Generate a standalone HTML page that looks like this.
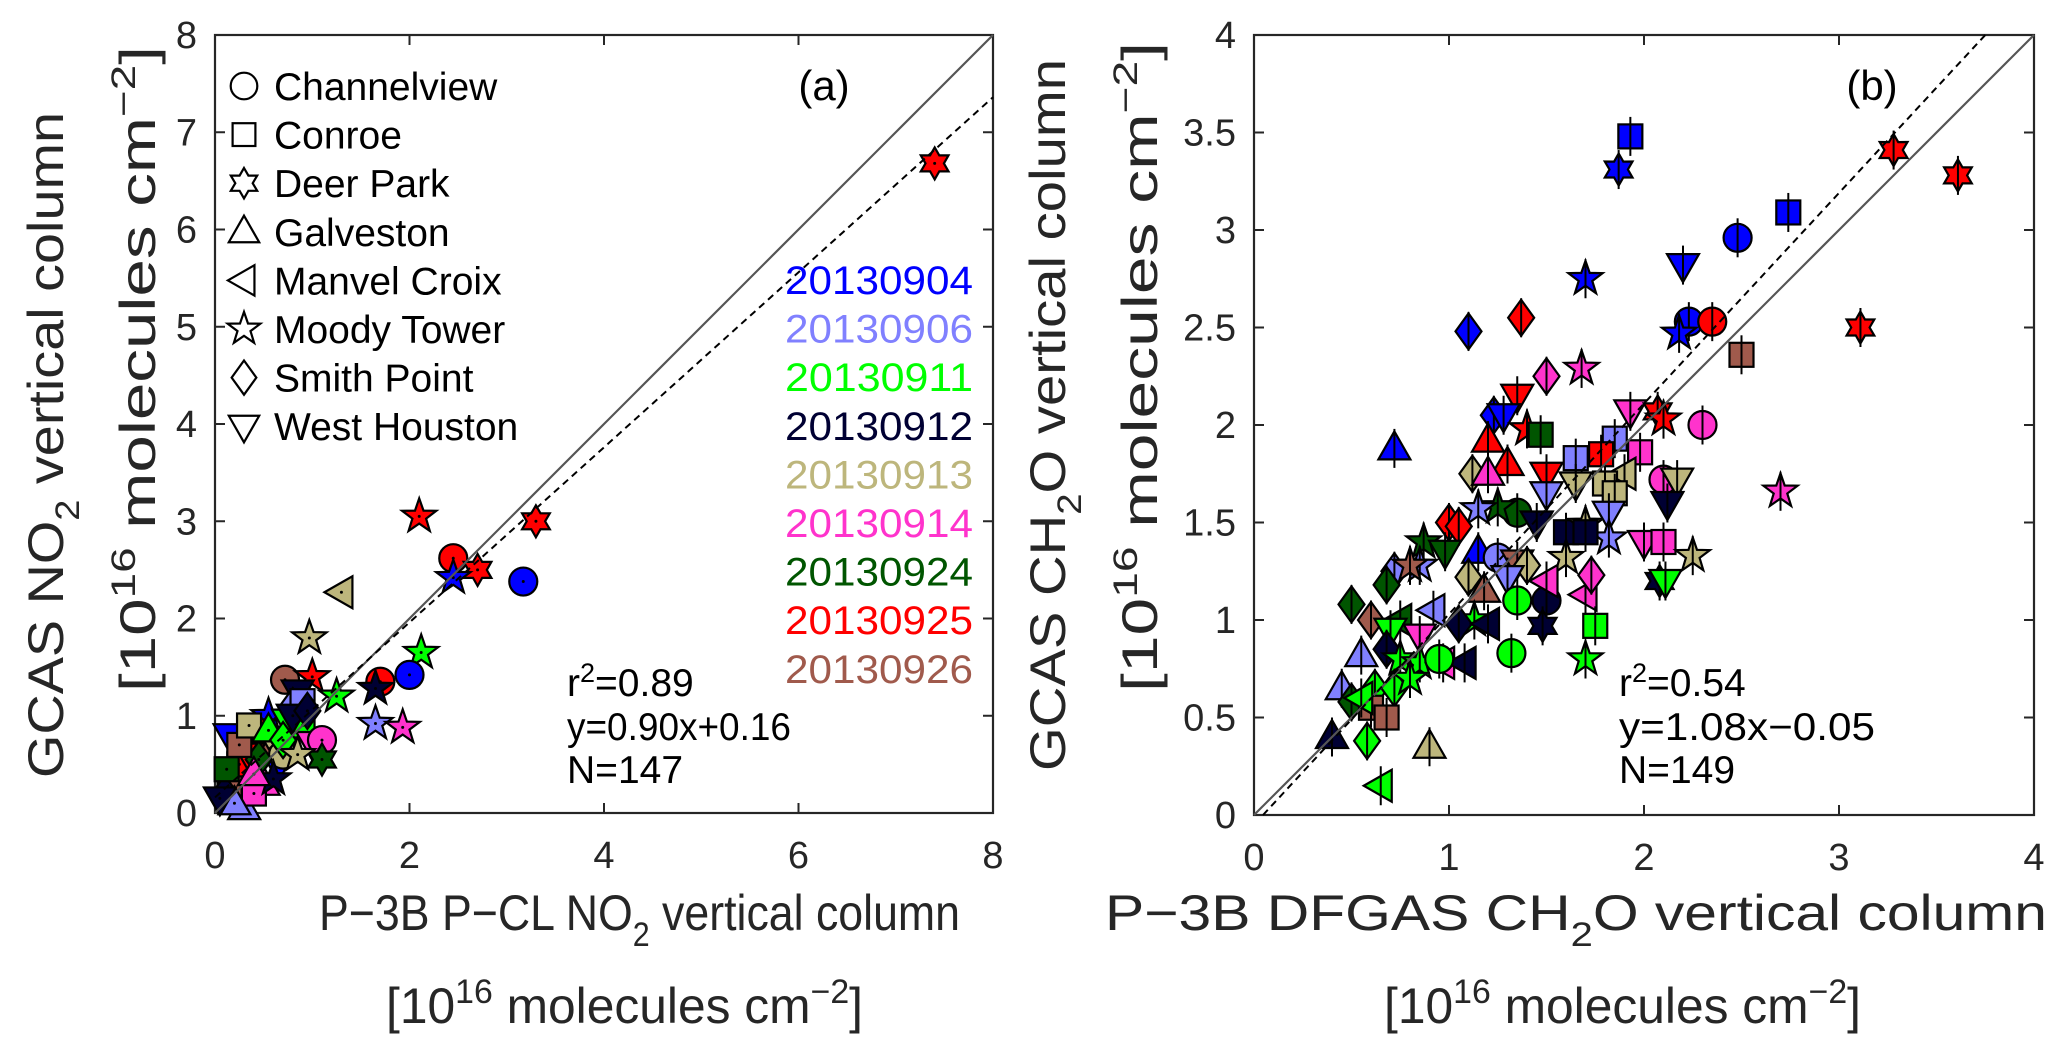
<!DOCTYPE html>
<html><head><meta charset="utf-8"><style>
body{margin:0;background:#fff}
svg{display:block;font-family:"Liberation Sans","DejaVu Sans",sans-serif}
</style></head><body>
<svg id="fig" width="2067" height="1051" viewBox="0 0 2067 1051" xmlns="http://www.w3.org/2000/svg">
<rect width="2067" height="1051" fill="#fff"/>
<g id="pa"></g>
<g id="pb"></g>
</svg>
<script>
// Panel (a) NO2 data
const aX=[7.4,3.3,2.1,2.45,2.7,2.45,3.17,1.3,0.97,2.12,2.0,1.7,1.65,1.65,1.93,0.72,1.0,0.85,1.25,0.55,0.15,0.45,0.75,0.9,1.0,1.1,1.1,0.65,0.5,0.3,0.5,0.3,0.15,0.1,0.25,0.35,0.6,0.8,0.4,0.2,0.05,0.7,0.45,0.9,0.6,0.25,0.8,0.35,0.95,0.55,0.12,0.7,0.85,0.4];
const aY=[6.68,3.0,3.05,2.62,2.5,2.42,2.38,2.27,1.8,1.65,1.42,1.35,1.28,0.92,0.88,1.37,1.4,1.25,1.2,1.0,0.8,0.85,0.95,0.9,0.72,0.75,0.55,0.5,0.65,0.45,0.3,0.05,0.3,0.2,0.5,0.6,0.75,1.1,0.2,0.1,0.15,0.6,0.55,1.15,0.35,0.7,1.0,0.9,1.05,0.85,0.45,0.75,0.6,0.4];
const aSite=[2,2,5,0,2,5,0,4,5,5,0,0,5,5,5,0,5,7,5,5,7,7,7,1,7,0,2,7,7,7,3,3,1,6,1,7,7,6,1,3,7,0,6,1,5,1,7,1,6,3,1,6,5,3];
const aDate=[7,7,7,7,7,0,0,4,4,2,0,7,3,1,5,8,7,3,2,0,0,7,2,2,5,5,6,0,8,6,5,1,8,3,7,7,4,1,5,1,3,4,6,1,3,8,3,4,3,2,6,2,4,5];
// Panel (b) CH2O data
const bX=[3.28,3.61,3.11,2.7,1.93,1.87,2.74,2.48,2.2,1.7,2.23,2.35,2.18,2.5,1.1,1.37,1.5,1.68,1.35,2.3,1.93,2.07,2.1,0.72,1.23,1.28,1.4,1.47,1.85,1.2,1.3,1.12,1.2,1.5,1.65,1.78,1.98,2.1,2.17,1.9,1.8,1.85,2.12,1.5,1.65,1.35,1.25,1.15,1.0,1.05,1.45,1.6,1.7,1.82,1.82,2.0,2.1,2.25,2.08,2.11,0.87,0.98,1.15,1.25,1.35,1.4,1.6,1.7,0.72,0.85,0.8,1.1,1.3,0.68,0.5,0.6,0.75,0.92,1.18,1.35,1.5,1.5,1.7,1.73,1.75,1.48,1.13,1.05,1.2,0.7,0.85,0.55,0.68,0.75,0.85,0.97,1.08,1.32,1.7,0.45,0.62,0.72,0.8,0.5,0.6,0.68,0.4,0.58,0.9,0.65,0.55,0.95];
const bY=[3.41,3.28,2.5,1.66,3.48,3.31,3.09,2.96,2.82,2.75,2.53,2.53,2.47,2.36,2.48,2.55,2.25,2.29,2.15,2.0,2.07,2.07,2.03,1.88,2.05,2.05,1.98,1.95,1.93,1.92,1.8,1.75,1.75,1.75,1.83,1.85,1.86,1.72,1.72,1.75,1.7,1.65,1.6,1.65,1.7,1.55,1.58,1.57,1.5,1.48,1.5,1.45,1.49,1.55,1.42,1.4,1.4,1.33,1.2,1.2,1.4,1.35,1.35,1.32,1.3,1.28,1.32,1.45,1.25,1.28,1.28,1.22,1.22,1.18,1.08,1.0,1.0,1.05,1.15,1.1,1.1,1.2,1.13,1.23,0.97,0.97,1.0,0.98,0.98,0.95,0.92,0.82,0.85,0.8,0.78,0.78,0.78,0.83,0.8,0.65,0.65,0.65,0.7,0.58,0.55,0.5,0.4,0.38,0.35,0.15,0.6,0.8];
const bSite=[2,2,2,5,1,2,1,0,7,5,0,0,5,1,6,6,6,5,7,0,7,2,5,3,6,7,5,1,1,3,3,6,3,7,1,1,1,0,7,4,1,1,7,7,7,0,5,5,6,6,7,1,5,7,5,7,1,5,2,7,5,7,3,0,7,6,5,1,6,5,5,6,7,6,6,6,4,4,3,0,0,4,4,6,1,2,5,6,4,7,7,3,6,5,5,4,4,0,5,3,6,6,5,6,1,1,3,6,3,4,4,0];
const bDate=[7,7,7,5,0,0,0,0,0,0,0,7,0,8,0,7,5,5,7,5,5,7,7,0,0,0,7,6,1,7,7,4,5,7,1,7,5,5,4,4,4,4,3,1,4,6,6,1,7,7,3,3,4,1,1,5,5,4,3,2,6,6,0,1,8,4,4,3,1,1,8,4,1,6,6,8,6,1,8,2,3,5,5,5,2,3,2,3,3,2,5,1,3,2,2,5,3,2,2,1,2,2,2,6,8,8,3,2,4,2,2,2];
const dateLabels=["20130904","20130906","20130911","20130912","20130913","20130914","20130924","20130925","20130926"];
const dateColors=["#0000ff","#8080ff","#00ff00","#000033","#bdb67c","#ff33cc","#005500","#ff0000","#a05a4c"];
const siteLabels=["Channelview","Conroe","Deer Park","Galveston","Manvel Croix","Moody Tower","Smith Point","West Houston"];
const aXTicks=[0,2,4,6,8];
const aYTicks=[0,1,2,3,4,5,6,7,8];
const bXTicks=[0,1,2,3,4];
const bYTicks=[0,0.5,1,1.5,2,2.5,3,3.5,4];

const NS="http://www.w3.org/2000/svg";
function mk(parent,tag,attrs){const e=document.createElementNS(NS,tag);for(const k in attrs)e.setAttribute(k,attrs[k]);parent.appendChild(e);return e;}
function starPts(cx,cy,n,ro,ri,rot){let p=[];for(let i=0;i<2*n;i++){const r=i%2?ri:ro;const a=rot+Math.PI*i/n;p.push((cx+r*Math.sin(a)).toFixed(1)+","+(cy-r*Math.cos(a)).toFixed(1));}return p.join(" ");}
function marker(g,site,cx,cy,fill,s){
  let e;
  if(site===0)e=mk(g,'circle',{cx:cx,cy:cy,r:14*s});
  else if(site===1)e=mk(g,'rect',{x:cx-12*s,y:cy-12*s,width:24*s,height:24*s});
  else if(site===2)e=mk(g,'polygon',{points:starPts(cx,cy,6,16*s,9.2*s,0)});
  else if(site===3)e=mk(g,'polygon',{points:`${cx},${cy-17*s} ${cx+16*s},${cy+11*s} ${cx-16*s},${cy+11*s}`});
  else if(site===4)e=mk(g,'polygon',{points:`${cx-17*s},${cy} ${cx+11*s},${cy-16*s} ${cx+11*s},${cy+16*s}`});
  else if(site===5)e=mk(g,'polygon',{points:starPts(cx,cy,5,18*s,7.2*s,0)});
  else if(site===6)e=mk(g,'polygon',{points:`${cx},${cy-18*s} ${cx+13*s},${cy} ${cx},${cy+18*s} ${cx-13*s},${cy}`});
  else e=mk(g,'polygon',{points:`${cx},${cy+17*s} ${cx+16*s},${cy-11*s} ${cx-16*s},${cy-11*s}`});
  e.setAttribute('fill',fill);e.setAttribute('stroke','#000');e.setAttribute('stroke-width',2.2);
  return e;
}
function panel(g,L,T,S,max,xticks,yticks,X,Y,Site,Date,fit,err){
  const sx=v=>L+v/max*S, sy=v=>T+S-v/max*S;
  mk(g,'rect',{x:L,y:T,width:S,height:S,fill:'#fff',stroke:'#262626','stroke-width':2.2});
  xticks.forEach(t=>{
    mk(g,'line',{x1:sx(t),x2:sx(t),y1:T+S,y2:T+S-10,stroke:'#262626','stroke-width':2});
    mk(g,'line',{x1:sx(t),x2:sx(t),y1:T,y2:T+10,stroke:'#262626','stroke-width':2});
    const tx=mk(g,'text',{x:sx(t),y:T+S+55,'text-anchor':'middle','font-size':38,fill:'#262626'});tx.textContent=String(t);
    
    
  });
  yticks.forEach(t=>{
    mk(g,'line',{x1:L,x2:L+10,y1:sy(t),y2:sy(t),stroke:'#262626','stroke-width':2});
    mk(g,'line',{x1:L+S,x2:L+S-10,y1:sy(t),y2:sy(t),stroke:'#262626','stroke-width':2});
    const ty=mk(g,'text',{x:L-18,y:sy(t)+13,'text-anchor':'end','font-size':38,fill:'#262626'});ty.textContent=String(t);
    
    
  });
  const mg=mk(g,'g',{});
  
  
  for(let i=0;i<X.length;i++){
    const m=marker(mg,Site[i],sx(X[i]),sy(Y[i]),dateColors[Date[i]],1);
    
    
    if(err){mk(mg,'line',{x1:sx(X[i]),x2:sx(X[i]),y1:sy(Y[i]+err),y2:sy(Y[i]-err),stroke:'#000','stroke-width':2});}
    else{mk(mg,'circle',{cx:sx(X[i]),cy:sy(Y[i]),r:1.5,fill:'#000'});}
  }
  const one=mk(g,'line',{x1:sx(0),y1:sy(0),x2:sx(max),y2:sy(max),stroke:'#555','stroke-width':2.2});
  
  
  let x0=Math.max(0,-fit[1]/fit[0]), x1=Math.min(max,(max-fit[1])/fit[0]);
  const fl=mk(g,'line',{x1:sx(x0),y1:sy(fit[0]*x0+fit[1]),x2:sx(x1),y2:sy(fit[0]*x1+fit[1]),stroke:'#000','stroke-width':2,'stroke-dasharray':'7,5'});
  
  
}
const pa=document.getElementById('pa'), pb=document.getElementById('pb');
panel(pa,215,35,778,8,aXTicks,aYTicks,aX,aY,aSite,aDate,[0.90,0.16],0);
panel(pb,1254,35,780,4,bXTicks,bYTicks,bX,bY,bSite,bDate,[1.08,-0.05],0.1);

const lg=mk(pa,'g',{});


siteLabels.forEach((s,i)=>{
  const y=86+i*48.6;
  marker(lg,i,244,y,'#fff',0.95);
  const t=mk(lg,'text',{x:274,y:y+14,'font-size':39,fill:'#000'});t.textContent=s;
  
  
});
const dg=mk(pa,'g',{});


dateLabels.forEach((s,i)=>{
  const t=mk(dg,'text',{x:973,y:294+i*48.6,'text-anchor':'end','font-size':40,fill:dateColors[i],textLength:188,lengthAdjust:'spacingAndGlyphs'});t.textContent=s;
  
  
});
</script>
<script>
const f=document.getElementById('fig');
f.insertAdjacentHTML('beforeend',`
<text x="824" y="100" text-anchor="middle" font-size="42">(a)</text>
<text x="1872" y="100" text-anchor="middle" font-size="42">(b)</text>
<g font-size="39" fill="#000">
<text x="567" y="696">r<tspan dy="-14" font-size="27">2</tspan><tspan dy="14">=0.89</tspan></text>
<text x="567" y="740" textLength="224" lengthAdjust="spacingAndGlyphs">y=0.90x+0.16</text>
<text x="567" y="783">N=147</text></g>
<g font-size="39" fill="#000">
<text x="1619" y="696">r<tspan dy="-14" font-size="27">2</tspan><tspan dy="14">=0.54</tspan></text>
<text x="1619" y="740" textLength="256" lengthAdjust="spacingAndGlyphs">y=1.08x−0.05</text>
<text x="1619" y="783">N=149</text></g>
<g font-size="50" fill="#262626">
<text x="319" y="930" textLength="641" lengthAdjust="spacingAndGlyphs">P−3B P−CL NO<tspan dy="16" font-size="34">2</tspan><tspan dy="-16">  vertical column</tspan></text>
<text x="386" y="1023" textLength="477" lengthAdjust="spacingAndGlyphs">[10<tspan dy="-20" font-size="34">16</tspan><tspan dy="20"> molecules cm</tspan><tspan dy="-20" font-size="34">−2</tspan><tspan dy="20">]</tspan></text>
<text x="1105" y="930" textLength="942" lengthAdjust="spacingAndGlyphs">P−3B DFGAS CH<tspan dy="16" font-size="34">2</tspan><tspan dy="-16">O vertical column</tspan></text>
<text x="1384" y="1023" textLength="477" lengthAdjust="spacingAndGlyphs">[10<tspan dy="-20" font-size="34">16</tspan><tspan dy="20"> molecules cm</tspan><tspan dy="-20" font-size="34">−2</tspan><tspan dy="20">]</tspan></text>
<text transform="translate(63,778) rotate(-90)" textLength="666" lengthAdjust="spacingAndGlyphs">GCAS NO<tspan dy="16" font-size="34">2</tspan><tspan dy="-16"> vertical column</tspan></text>
<text transform="translate(155,692) rotate(-90)" textLength="646" lengthAdjust="spacingAndGlyphs">[10<tspan dy="-20" font-size="34">16</tspan><tspan dy="20"> molecules cm</tspan><tspan dy="-20" font-size="34">−2</tspan><tspan dy="20">]</tspan></text>
<text transform="translate(1065,771) rotate(-90)" textLength="712" lengthAdjust="spacingAndGlyphs">GCAS CH<tspan dy="16" font-size="34">2</tspan><tspan dy="-16">O vertical column</tspan></text>
<text transform="translate(1157,692) rotate(-90)" textLength="650" lengthAdjust="spacingAndGlyphs">[10<tspan dy="-20" font-size="34">16</tspan><tspan dy="20"> molecules cm</tspan><tspan dy="-20" font-size="34">−2</tspan><tspan dy="20">]</tspan></text>
</g>`);
</script>
</body></html>
